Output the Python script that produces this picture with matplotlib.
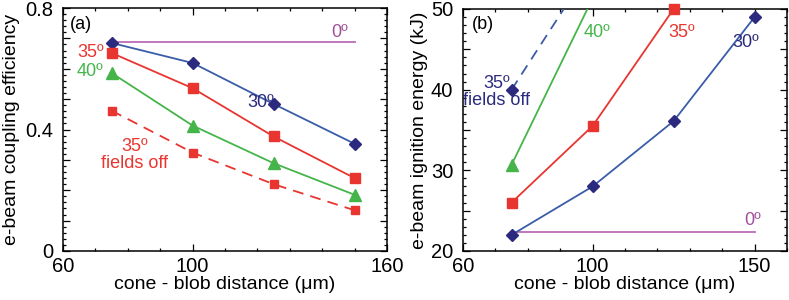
import matplotlib
matplotlib.use("Agg")
import matplotlib.pyplot as plt
from matplotlib.ticker import MultipleLocator, FixedLocator, FuncFormatter

plt.rcParams['font.family'] = ['Liberation Sans', 'DejaVu Sans']

# ---------------- data ----------------
dist = [75, 100, 125, 150]

# panel (a): coupling efficiency
eff_30 = [0.685, 0.619, 0.484, 0.353]
eff_35 = [0.652, 0.536, 0.377, 0.240]
eff_40 = [0.586, 0.413, 0.289, 0.185]
eff_35_off = [0.462, 0.324, 0.220, 0.134]
eff_0_x = [75, 150]
eff_0 = [0.687, 0.687]

# panel (b): ignition energy
en_30 = [22.0, 28.0, 36.1, 49.0]
en_35_x = [75, 100, 125]
en_35 = [26.0, 35.5, 50.0]
en_40_x = [75, 98.4]
en_40 = [30.7, 50.0]
en_35_off_x = [75, 91.1]
en_35_off = [40.0, 50.0]
en_0_x = [75, 150]
en_0 = [22.4, 22.4]

BLUE = '#3b5ca8'
NAVY = '#2b2a7e'
RED = '#e8352f'
GREEN = '#45b54a'
PURPLE_L = '#bb6cb6'
PURPLE_T = '#a0509a'

fig = plt.figure(figsize=(7.89, 3.0), dpi=100)
W, H = 789, 300
axa = fig.add_axes([63 / W, 1 - 251 / H, (387 - 63) / W, (251 - 8) / H])
axb = fig.add_axes([463 / W, 1 - 251 / H, (787 - 463) / W, (251 - 9) / H])

FS = 13       # annotation texts
TFS = 14.5    # tick labels
LFS = 14      # axis labels
lw = 1.3

# ---------- panel (a) ----------
ax = axa
ax.plot(eff_0_x, eff_0, color=PURPLE_L, lw=lw, zorder=2)
ax.plot(dist, eff_30, color=BLUE, lw=lw, marker='D', ms=6, mfc=NAVY, mec=NAVY, zorder=3)
ax.plot(dist, eff_35, color=RED, lw=lw, marker='s', ms=7, mfc=RED, mec=RED, zorder=3)
ax.plot(dist, eff_40, color=GREEN, lw=lw, marker='^', ms=8, mfc=GREEN, mec=GREEN, zorder=3)
ax.plot(dist, eff_35_off, color=RED, lw=lw, ls=(0, (6, 4)), marker='s', ms=5.5,
        mfc=RED, mec=RED, zorder=3)
ax.set_xlim(60, 160)
ax.set_ylim(0, 0.8)
ax.xaxis.set_major_locator(FixedLocator([60, 100, 160]))
ax.xaxis.set_minor_locator(MultipleLocator(10))
ax.yaxis.set_major_locator(MultipleLocator(0.1))
ax.yaxis.set_minor_locator(MultipleLocator(0.02))
ax.yaxis.set_major_formatter(FuncFormatter(
    lambda v, p: ('0' if abs(v) < 1e-9 else f'{v:.1f}') if abs(round(v * 10) % 4) == 0 else ''))
ax.set_xlabel('cone - blob distance (\u03bcm)', fontsize=LFS, labelpad=0)
ax.set_ylabel('e-beam coupling efficiency', fontsize=LFS)
ax.yaxis.set_label_coords(-0.133, 0.5)

ax.text(62.2, 0.745, '(a)', fontsize=FS, ha='left', va='center')
ax.text(148, 0.693, '0º', color=PURPLE_T, fontsize=FS, ha='right', va='bottom')
ax.text(72.5, 0.655, '35º', color=RED, fontsize=FS, ha='right', va='center')
ax.text(72.5, 0.59, '40º', color=GREEN, fontsize=FS, ha='right', va='center')
ax.text(121, 0.49, '30º', color=NAVY, fontsize=FS, ha='center', va='center')
ax.text(82.2, 0.317, '35º\nfields off', color=RED, fontsize=FS, ha='center', va='center',
        linespacing=1.0)

# ---------- panel (b) ----------
ax = axb
ax.plot(en_0_x, en_0, color=PURPLE_L, lw=lw, zorder=2)
ax.plot(dist, en_30, color=BLUE, lw=lw, marker='D', ms=6, mfc=NAVY, mec=NAVY, zorder=3,
        clip_on=False)
ax.plot(en_35_x, en_35, color=RED, lw=lw, marker='s', ms=7, mfc=RED, mec=RED, zorder=3,
        clip_on=False)
ax.plot(en_40_x[:1], en_40[:1], ls='none', marker='^', ms=8, mfc=GREEN, mec=GREEN, zorder=3)
ax.plot(en_40_x, en_40, color=GREEN, lw=lw, zorder=3)
ax.plot(en_35_off_x, en_35_off, color=BLUE, lw=lw, ls=(0, (6, 4)), zorder=3)
ax.plot(en_35_off_x[:1], en_35_off[:1], ls='none', marker='D', ms=6, mfc=NAVY, mec=NAVY, zorder=3)
ax.set_xlim(60, 160)
ax.set_ylim(20, 50)
ax.xaxis.set_major_locator(FixedLocator([60, 100, 150]))
ax.xaxis.set_minor_locator(MultipleLocator(10))
ax.yaxis.set_major_locator(MultipleLocator(5))
ax.yaxis.set_minor_locator(MultipleLocator(1))
ax.yaxis.set_major_formatter(FuncFormatter(
    lambda v, p: f'{int(round(v))}' if int(round(v)) % 10 == 0 else ''))
ax.set_xlabel('cone - blob distance (\u03bcm)', fontsize=LFS, labelpad=0)
ax.set_ylabel('e-beam ignition energy (kJ)', fontsize=LFS)
ax.yaxis.set_label_coords(-0.108, 0.5)

ax.text(62.7, 48.1, '(b)', fontsize=FS, ha='left', va='center')
ax.text(97.1, 47.1, '40º', color=GREEN, fontsize=FS, ha='left', va='center')
ax.text(123.3, 47.1, '35º', color=RED, fontsize=FS, ha='left', va='center')
ax.text(143, 45.8, '30º', color=NAVY, fontsize=FS, ha='left', va='center')
ax.text(70.4, 39.7, '35º\nfields off', color=NAVY, fontsize=FS, ha='center', va='center',
        linespacing=1.0)
ax.text(146.7, 23.8, '0º', color=PURPLE_T, fontsize=FS, ha='left', va='center')

for ax in (axa, axb):
    for s in ax.spines.values():
        s.set_linewidth(1.1)
    ax.tick_params(which='both', direction='in', top=True, right=True, labelsize=TFS,
                   width=0.9)
    ax.tick_params(which='major', length=5)
    ax.tick_params(which='minor', length=2.5)
    ax.tick_params(axis='x', which='major', pad=4)
    ax.tick_params(axis='y', which='major', pad=7)

fig.savefig('out.png', dpi=100)
